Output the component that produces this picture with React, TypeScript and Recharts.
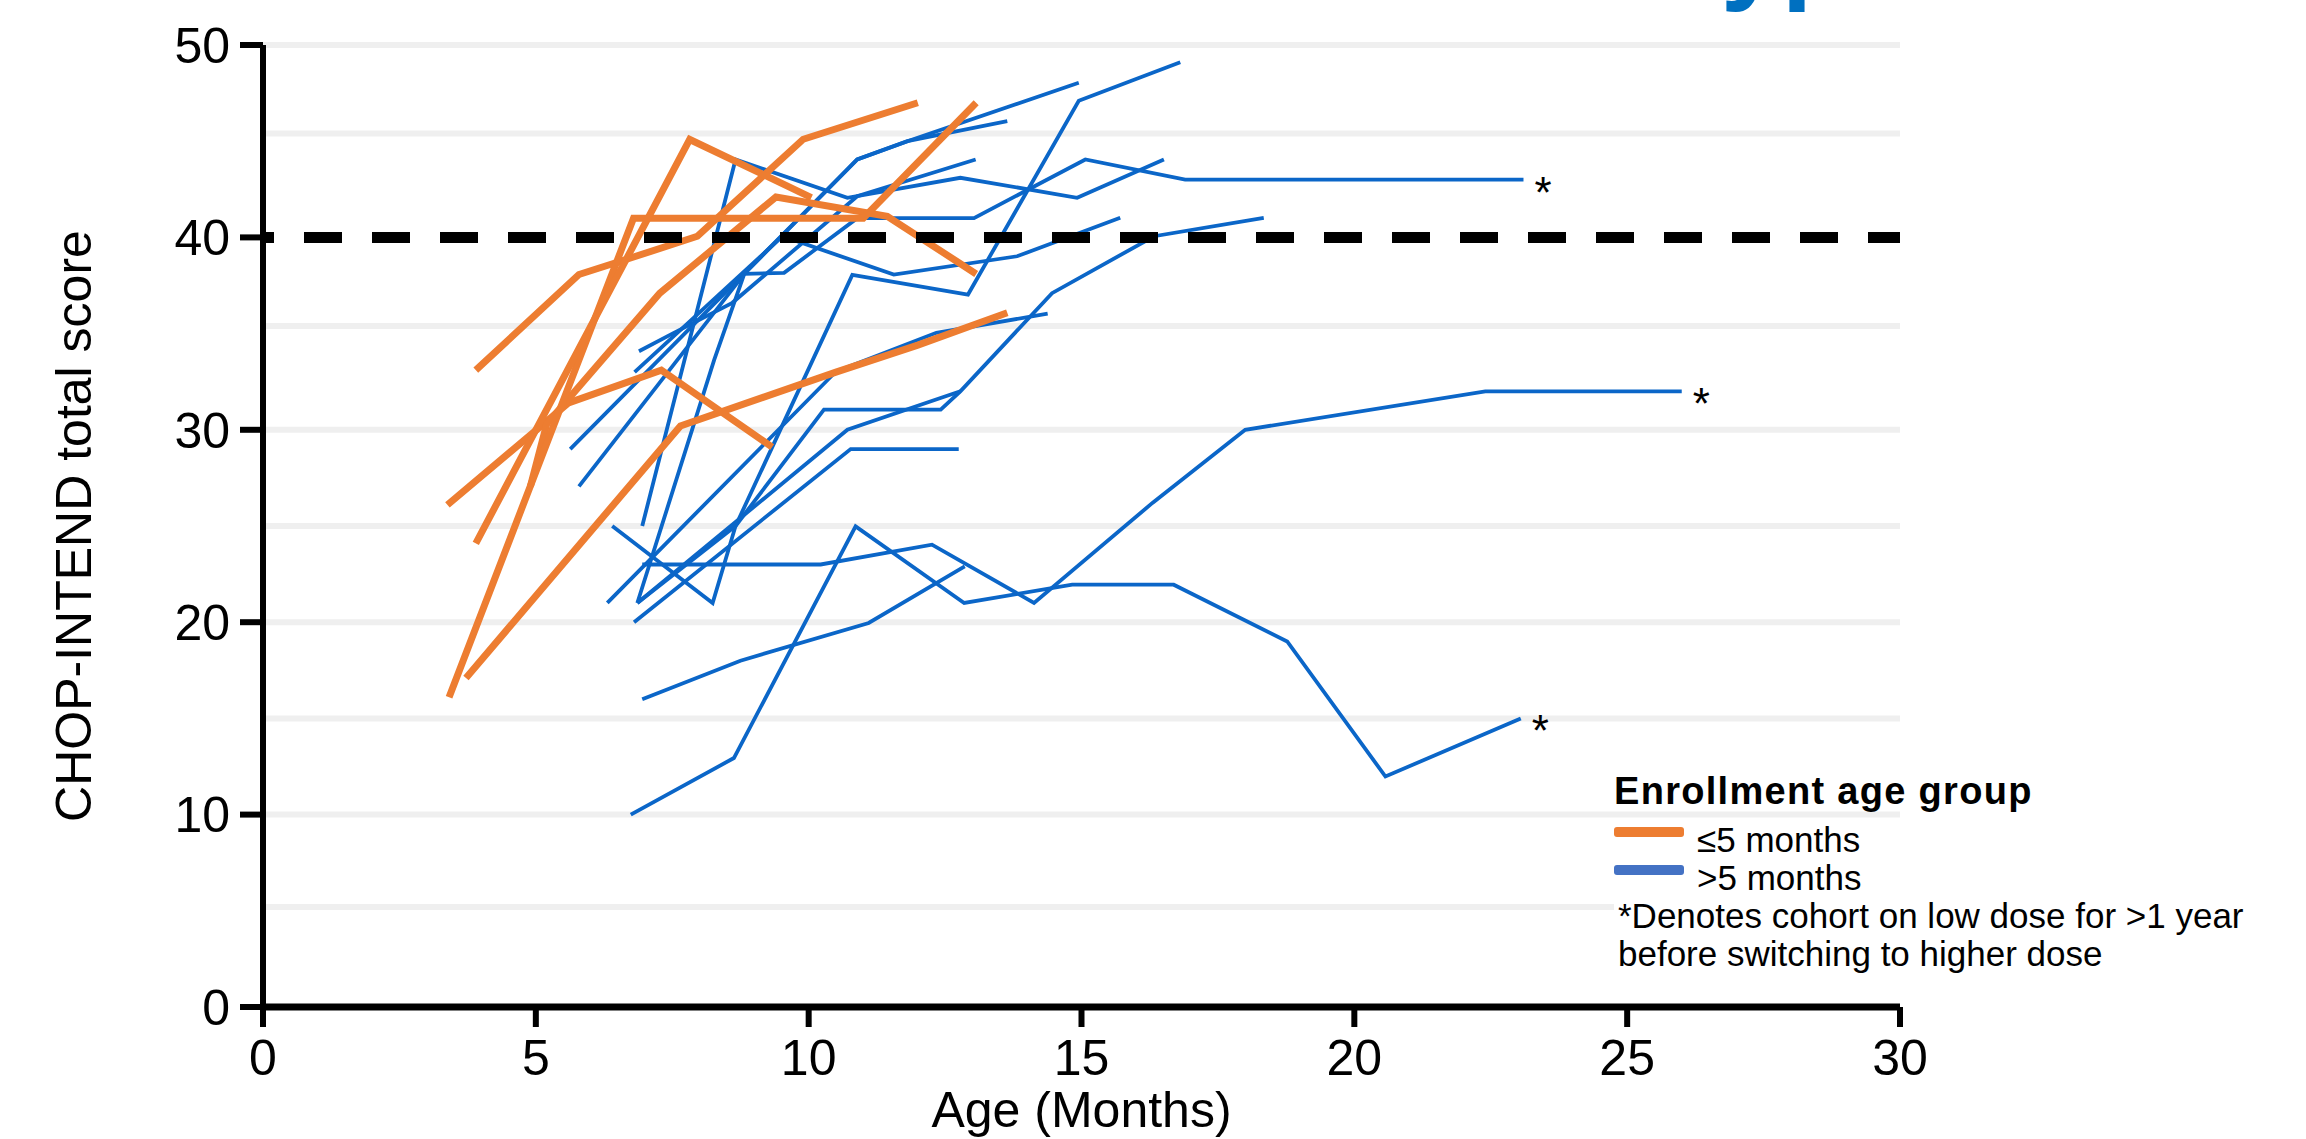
import React from "react";
import { LineChart, Line, XAxis, YAxis, ReferenceLine, Legend, LabelList } from "recharts";

const ORANGE = "#ED7D31";
const BLUE = "#0B66C8";
const LEGEND_BLUE = "#4472C4";
const FONT = '"Liberation Sans", Arial, Helvetica, sans-serif';

type Pt = [number, number]; // [age in months, CHOP-INTEND score]

// enrolled at <=5 months
const early1: Pt[] = [[3.38, 26.1], [5.6, 31.4], [7.3, 33.1], [9.33, 29.1]];
const early2: Pt[] = [[3.9, 33.1], [5.79, 38.07], [6.65, 38.85], [7.96, 40.06], [9.9, 45.1], [12.0, 47.0]];
const early3: Pt[] = [[4.9, 27.06], [5.2, 30.3], [7.27, 37.1], [9.4, 42.1], [11.44, 41.1], [13.07, 38.1]];
const early4: Pt[] = [[3.41, 16.1], [6.79, 41.0], [11.0, 41.0], [13.07, 47.0]];
const early5: Pt[] = [[3.72, 17.1], [7.65, 30.2], [10.5, 33.0], [12.0, 34.4], [13.64, 36.08]];
const early6: Pt[] = [[3.9, 24.1], [7.82, 45.09], [10.05, 42.07]];

// enrolled at >5 months
const late1: Pt[] = [[5.63, 29.0], [10.89, 44.05], [11.81, 45.0], [13.64, 46.04]];
const late2: Pt[] = [[5.79, 27.06], [8.82, 38.1], [10.89, 44.05], [11.81, 45.0], [14.95, 48.04]];
const late3: Pt[] = [[6.89, 34.08], [7.53, 35.04], [8.6, 36.6], [10.89, 42.14], [13.06, 44.05]];
const late4: Pt[] = [[6.81, 33.0], [9.52, 40.06], [11.56, 38.07], [13.82, 39.02], [15.71, 41.02]];
const late5: Pt[] = [[6.95, 25.0], [8.66, 44.05], [10.71, 42.06], [12.78, 43.1], [14.92, 42.06], [16.51, 44.05]];
const late6: Pt[] = [[6.86, 21.0], [8.27, 33.65], [8.82, 38.1], [9.55, 38.16], [10.89, 41.0], [13.03, 41.0], [15.07, 44.05], [16.9, 43.0], [23.1, 43.0]];
const late7: Pt[] = [[6.4, 25.0], [8.24, 21.0], [8.66, 25.0], [10.28, 31.05], [12.42, 31.05], [12.78, 32.0], [14.46, 37.1], [16.33, 40.06], [18.34, 41.02]];
const late8: Pt[] = [[6.86, 21.0], [8.66, 25.0], [10.8, 38.05], [12.92, 37.03], [14.95, 47.1], [16.81, 49.1]];
const late9: Pt[] = [[6.31, 21.0], [10.5, 33.03], [12.34, 35.04], [14.38, 36.04]];
const late10: Pt[] = [[6.86, 21.0], [10.71, 30.0], [12.78, 32.0]];
const late11: Pt[] = [[6.8, 20.0], [10.77, 29.0], [12.75, 29.0]];
const late12: Pt[] = [[6.95, 16.0], [8.75, 18.0], [11.1, 19.96], [12.86, 22.9]];
const late13: Pt[] = [[6.74, 10.0], [8.63, 12.94], [10.86, 24.98], [12.85, 21.0], [14.83, 21.95], [16.69, 21.95], [18.77, 19.0], [20.57, 11.98], [23.05, 15.0]];
const late14: Pt[] = [[6.95, 23.0], [10.22, 23.0], [12.26, 24.03], [14.13, 21.0], [16.3, 26.2], [18.0, 30.0], [22.4, 32.0], [26.0, 32.0]];

const earlyGroup = [early1, early2, early3, early4, early5, early6];
const lateGroup = [late1, late2, late3, late4, late5, late6, late7, late8, late9, late10, late11, late12, late13, late14];
// cohorts on low dose for >1 year (marked with *)
const lowDoseCohorts = [late6, late13, late14];

const xTicks = [0, 5, 10, 15, 20, 25, 30];
const yTicks = [0, 10, 20, 30, 40, 50];
const gridLevels = [5.2, 10, 15, 20, 25, 30, 35.4, 45.4, 50];
const THRESHOLD = 40;

const toRows = (pts: Pt[]) => {
  const starred = lowDoseCohorts.includes(pts);
  return pts.map(([age, score], i) => ({
    age,
    score,
    mark: starred && i === pts.length - 1 ? "*" : undefined,
  }));
};

const renderStar = (props: any) => {
  const { x, y, value } = props;
  if (!value) return null;
  return (
    <text x={x + 11} y={y + 28} fontSize={44} fontFamily={FONT} fill="#000">
      {value}
    </text>
  );
};

const tickStyle = { fontSize: 50, fill: "#000", fontFamily: FONT };

function LegendBox() {
  const swatch = (color: string) => (
    <span
      style={{
        display: "inline-block",
        width: 70,
        height: 10,
        borderRadius: 3,
        background: color,
        marginTop: 6,
        marginRight: 13,
        flex: "none",
      }}
    />
  );
  return (
    <div style={{ fontFamily: FONT, color: "#000", lineHeight: "38px", textAlign: "left" }}>
      <div style={{ fontWeight: 700, fontSize: 38, letterSpacing: 1.3, whiteSpace: "nowrap" }}>
        Enrollment age group
      </div>
      <div style={{ background: "#fff", marginTop: 11, fontSize: 35, whiteSpace: "nowrap" }}>
        <div style={{ display: "flex", alignItems: "flex-start" }}>
          {swatch(ORANGE)}
          <span>≤5 months</span>
        </div>
        <div style={{ display: "flex", alignItems: "flex-start" }}>
          {swatch(LEGEND_BLUE)}
          <span>&gt;5 months</span>
        </div>
        <div style={{ paddingLeft: 4 }}>*Denotes cohort on low dose for &gt;1 year</div>
        <div style={{ paddingLeft: 4 }}>before switching to higher dose</div>
      </div>
    </div>
  );
}

export default function App() {
  return (
    <div
      style={{
        position: "absolute",
        left: 0,
        top: 0,
        width: 2306,
        height: 1139,
        background: "#fff",
        overflow: "hidden",
      }}
    >
      <div
        style={{
          position: "absolute",
          left: 1684,
          top: -104,
          fontFamily: FONT,
          fontWeight: 700,
          fontSize: 110,
          lineHeight: "110px",
          color: "#0070C0",
          whiteSpace: "nowrap",
        }}
      >
        type
      </div>
      <LineChart
        width={2306}
        height={1139}
        margin={{ top: 45, right: 406, bottom: 0, left: 0 }}
      >
        <XAxis
          type="number"
          dataKey="age"
          domain={[0, 30]}
          ticks={xTicks}
          height={132}
          tickSize={20}
          tickMargin={12}
          axisLine={{ stroke: "#000", strokeWidth: 7 }}
          tickLine={{ stroke: "#000", strokeWidth: 6 }}
          tick={tickStyle}
          label={{
            value: "Age (Months)",
            position: "insideBottom",
            offset: 12,
            style: { fontSize: 50, fill: "#000", fontFamily: FONT },
          }}
        />
        <YAxis
          type="number"
          domain={[0, 50]}
          ticks={yTicks}
          width={263}
          tickSize={23}
          tickMargin={10}
          axisLine={{ stroke: "#000", strokeWidth: 6 }}
          tickLine={{ stroke: "#000", strokeWidth: 6 }}
          tick={tickStyle}
          label={{
            value: "CHOP-INTEND total score",
            angle: -90,
            position: "insideLeft",
            offset: 73,
            style: { textAnchor: "middle", fontSize: 50, fill: "#000", fontFamily: FONT },
          }}
        />
        {gridLevels.map((v) => (
          <ReferenceLine key={`grid-${v}`} y={v} stroke="#EFEFEF" strokeWidth={6} />
        ))}
        {lateGroup.map((pts, i) => (
          <Line
            key={`late-${i}`}
            name={`>5 months #${i + 1}`}
            data={toRows(pts)}
            dataKey="score"
            stroke={BLUE}
            strokeWidth={3.8}
            dot={false}
            activeDot={false}
            isAnimationActive={false}
          >
            <LabelList dataKey="mark" content={renderStar} />
          </Line>
        ))}
        {earlyGroup.map((pts, i) => (
          <Line
            key={`early-${i}`}
            name={`≤5 months #${i + 1}`}
            data={toRows(pts)}
            dataKey="score"
            stroke={ORANGE}
            strokeWidth={7}
            dot={false}
            activeDot={false}
            isAnimationActive={false}
          />
        ))}
        <ReferenceLine
          y={THRESHOLD}
          stroke="#000"
          strokeWidth={11}
          strokeDasharray="38 30"
          strokeDashoffset={27}
        />
        <Legend
          layout="vertical"
          align="center"
          verticalAlign="middle"
          content={() => <LegendBox />}
          wrapperStyle={{ position: "absolute", left: 1614, top: 772, width: 690, height: 210 }}
        />
      </LineChart>
    </div>
  );
}
